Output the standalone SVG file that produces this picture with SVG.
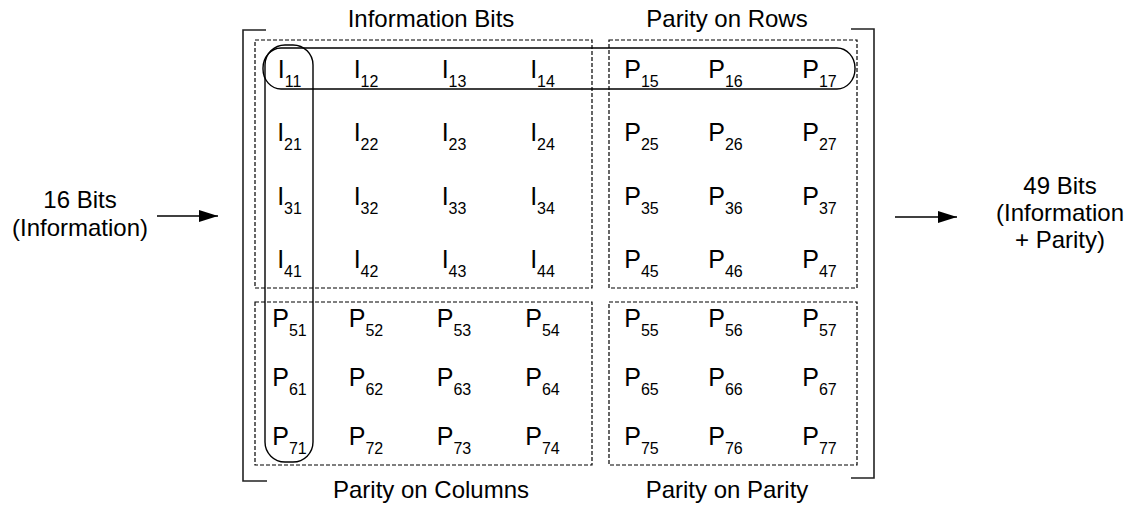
<svg xmlns="http://www.w3.org/2000/svg" width="1133" height="506" viewBox="0 0 1133 506">
<defs>
<style>
text{font-family:"Liberation Sans",Arial,sans-serif;fill:#000}
.lbl{font-size:24px;text-anchor:middle}
.c{font-size:25px;text-anchor:middle}
.s{font-size:16px}
.box{fill:none;stroke:#000;stroke-width:1.2;stroke-dasharray:4 2}
.br{fill:none;stroke:#222;stroke-width:1.6}
.ring{fill:none;stroke:#000;stroke-width:1.4}
.arr{fill:none;stroke:#000;stroke-width:1.6}
</style>
<marker id="ah" viewBox="0 0 10 10" refX="10" refY="5" markerWidth="19" markerHeight="12" markerUnits="userSpaceOnUse" orient="auto" preserveAspectRatio="none">
<path d="M0,0 L10,5 L0,10 z" fill="#000"/>
</marker>
</defs>

<g id="brackets">
<polyline class="br" points="266,30 243,30 243,481 267,481"/>
<polyline class="br" points="851,29 874,29 874,478 851,478"/>
</g>

<g id="labels">
<text class="lbl" x="431" y="27">Information Bits</text>
<text class="lbl" x="727" y="27">Parity on Rows</text>
<text class="lbl" x="431" y="498">Parity on Columns</text>
<text class="lbl" x="727" y="498">Parity on Parity</text>
</g>

<g id="input">
<text class="lbl" x="80" y="208">16 Bits</text>
<text class="lbl" x="80" y="236">(Information)</text>
</g>
<g id="output">
<text class="lbl" x="1060" y="194">49 Bits</text>
<text class="lbl" x="1060" y="221">(Information</text>
<text class="lbl" x="1060" y="248">+ Parity)</text>
</g>

<g id="connectors">
<line class="arr" x1="157" y1="216" x2="218" y2="216" marker-end="url(#ah)"/>
<line class="arr" x1="895" y1="217" x2="957" y2="217" marker-end="url(#ah)"/>
</g>

<g id="information-bits">
<rect class="box" x="255" y="40" width="337" height="248"/>
<text class="c" x="289.5" y="78">I<tspan class="s" dy="9">11</tspan></text>
<text class="c" x="366" y="78">I<tspan class="s" dy="9">12</tspan></text>
<text class="c" x="454" y="78">I<tspan class="s" dy="9">13</tspan></text>
<text class="c" x="542.5" y="78">I<tspan class="s" dy="9">14</tspan></text>
<text class="c" x="289.5" y="141">I<tspan class="s" dy="9">21</tspan></text>
<text class="c" x="366" y="141">I<tspan class="s" dy="9">22</tspan></text>
<text class="c" x="454" y="141">I<tspan class="s" dy="9">23</tspan></text>
<text class="c" x="542.5" y="141">I<tspan class="s" dy="9">24</tspan></text>
<text class="c" x="289.5" y="205">I<tspan class="s" dy="9">31</tspan></text>
<text class="c" x="366" y="205">I<tspan class="s" dy="9">32</tspan></text>
<text class="c" x="454" y="205">I<tspan class="s" dy="9">33</tspan></text>
<text class="c" x="542.5" y="205">I<tspan class="s" dy="9">34</tspan></text>
<text class="c" x="289.5" y="268">I<tspan class="s" dy="9">41</tspan></text>
<text class="c" x="366" y="268">I<tspan class="s" dy="9">42</tspan></text>
<text class="c" x="454" y="268">I<tspan class="s" dy="9">43</tspan></text>
<text class="c" x="542.5" y="268">I<tspan class="s" dy="9">44</tspan></text>
</g>

<g id="parity-on-rows">
<rect class="box" x="609" y="40" width="248" height="248"/>
<text class="c" x="641.5" y="78">P<tspan class="s" dy="9">15</tspan></text>
<text class="c" x="725.5" y="78">P<tspan class="s" dy="9">16</tspan></text>
<text class="c" x="819.5" y="78">P<tspan class="s" dy="9">17</tspan></text>
<text class="c" x="641.5" y="141">P<tspan class="s" dy="9">25</tspan></text>
<text class="c" x="725.5" y="141">P<tspan class="s" dy="9">26</tspan></text>
<text class="c" x="819.5" y="141">P<tspan class="s" dy="9">27</tspan></text>
<text class="c" x="641.5" y="205">P<tspan class="s" dy="9">35</tspan></text>
<text class="c" x="725.5" y="205">P<tspan class="s" dy="9">36</tspan></text>
<text class="c" x="819.5" y="205">P<tspan class="s" dy="9">37</tspan></text>
<text class="c" x="641.5" y="268">P<tspan class="s" dy="9">45</tspan></text>
<text class="c" x="725.5" y="268">P<tspan class="s" dy="9">46</tspan></text>
<text class="c" x="819.5" y="268">P<tspan class="s" dy="9">47</tspan></text>
</g>

<g id="parity-on-columns">
<rect class="box" x="255" y="302" width="337" height="163"/>
<text class="c" x="289.5" y="327">P<tspan class="s" dy="9">51</tspan></text>
<text class="c" x="366" y="327">P<tspan class="s" dy="9">52</tspan></text>
<text class="c" x="454" y="327">P<tspan class="s" dy="9">53</tspan></text>
<text class="c" x="542.5" y="327">P<tspan class="s" dy="9">54</tspan></text>
<text class="c" x="289.5" y="386">P<tspan class="s" dy="9">61</tspan></text>
<text class="c" x="366" y="386">P<tspan class="s" dy="9">62</tspan></text>
<text class="c" x="454" y="386">P<tspan class="s" dy="9">63</tspan></text>
<text class="c" x="542.5" y="386">P<tspan class="s" dy="9">64</tspan></text>
<text class="c" x="289.5" y="445">P<tspan class="s" dy="9">71</tspan></text>
<text class="c" x="366" y="445">P<tspan class="s" dy="9">72</tspan></text>
<text class="c" x="454" y="445">P<tspan class="s" dy="9">73</tspan></text>
<text class="c" x="542.5" y="445">P<tspan class="s" dy="9">74</tspan></text>
</g>

<g id="parity-on-parity">
<rect class="box" x="609" y="302" width="248" height="163"/>
<text class="c" x="641.5" y="327">P<tspan class="s" dy="9">55</tspan></text>
<text class="c" x="725.5" y="327">P<tspan class="s" dy="9">56</tspan></text>
<text class="c" x="819.5" y="327">P<tspan class="s" dy="9">57</tspan></text>
<text class="c" x="641.5" y="386">P<tspan class="s" dy="9">65</tspan></text>
<text class="c" x="725.5" y="386">P<tspan class="s" dy="9">66</tspan></text>
<text class="c" x="819.5" y="386">P<tspan class="s" dy="9">67</tspan></text>
<text class="c" x="641.5" y="445">P<tspan class="s" dy="9">75</tspan></text>
<text class="c" x="725.5" y="445">P<tspan class="s" dy="9">76</tspan></text>
<text class="c" x="819.5" y="445">P<tspan class="s" dy="9">77</tspan></text>
</g>

<g id="row-group">
<rect class="ring" x="263" y="48" width="592" height="41" rx="18" ry="20"/>
</g>
<g id="column-group">
<rect class="ring" x="265" y="45" width="48" height="417" rx="20" ry="20"/>
</g>
</svg>
